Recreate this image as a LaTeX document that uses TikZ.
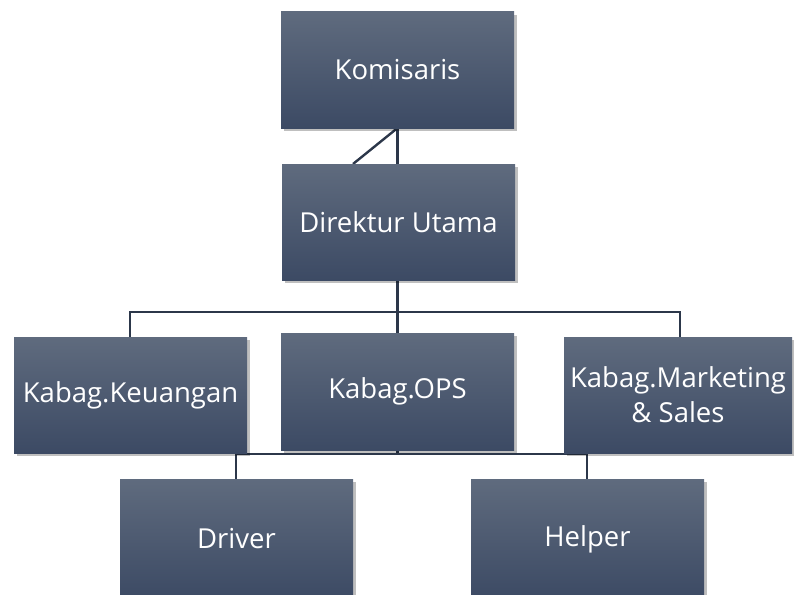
\documentclass[tikz,border=0pt]{standalone}
\usepackage{fontspec}
\setmainfont{Open Sans}
\usetikzlibrary{shadows,backgrounds}
\definecolor{boxtop}{HTML}{5F6B7E}
\definecolor{boxbot}{HTML}{3C4A64}
\definecolor{linec}{HTML}{2C374A}
\tikzset{
  orgbox/.style={rectangle, minimum width=233pt, minimum height=116pt, inner sep=0pt,
    top color=boxtop, bottom color=boxbot, text=white, align=center,
    font=\fontsize{27.5}{35}\selectfont,
    drop shadow={shadow xshift=2.5pt, shadow yshift=-3pt, opacity=0.25, fill=black}},
  conn/.style={draw=linec, line width=2.4pt}
}
\begin{document}
\begin{tikzpicture}[x=1pt,y=-1pt]
\useasboundingbox (0,0) rectangle (794,594);
\node[orgbox] (kom) at (397.5,70) {Komisaris};
\node[orgbox] (dir) at (398.5,222) {Direktur Utama};
\node[orgbox] (keu) at (130.5,395) {Kabag.Keuangan};
\node[orgbox, minimum height=117pt] (ops) at (397.5,391.5) {Kabag.OPS};
\node[orgbox, minimum width=228pt] (mkt) at (678,395) {Kabag.Marketing\\\& Sales};
\node[orgbox, minimum height=120pt] (drv) at (236.5,539) {Driver};
\node[orgbox, minimum height=120pt] (hlp) at (587.5,539) {Helper};
\coordinate (kb) at (397.5,128);
\coordinate (dd) at (353,164);
\coordinate (bus1) at (397.5,312);
\coordinate (bus2) at (397.5,454);
\begin{scope}[on background layer]
\draw[conn] (kb) -- (kb |- dir.north);
\draw[conn] (kb) -- (dd);
\draw[conn] (bus1 |- dir.south) -- (bus1 |- ops.north);
\draw[conn] (keu.north -| 130,0) -- (130,312) -- (680,312) -- (mkt.north -| 680,0);
\draw[conn] (bus2 |- ops.south) -- (bus2);
\draw[conn] (drv.north -| 236,0) -- (236,454) -- (587,454) -- (hlp.north -| 587,0);
\end{scope}
\end{tikzpicture}
\end{document}
